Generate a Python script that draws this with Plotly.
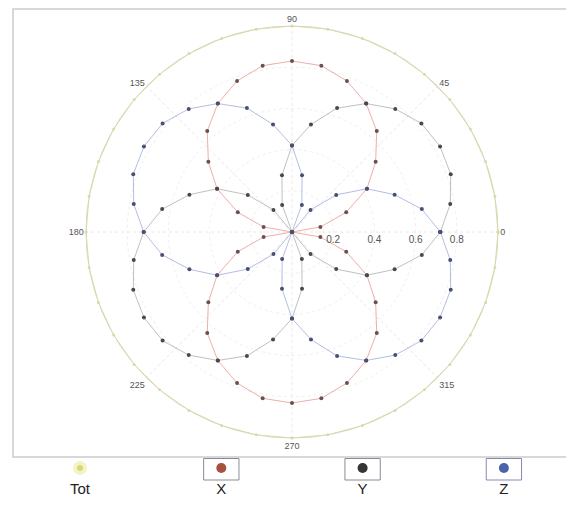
import plotly.graph_objects as go

# ---- data -------------------------------------------------------------
theta_deg = list(range(0, 361, 10))

x_vals = [0.00, 0.14, 0.28, 0.42, 0.53, 0.64, 0.72, 0.78, 0.82, 0.83,
          0.82, 0.78, 0.72, 0.64, 0.53, 0.42, 0.28, 0.14, 0.00,
          0.14, 0.28, 0.42, 0.53, 0.64, 0.72, 0.78, 0.82, 0.83,
          0.82, 0.78, 0.72, 0.64, 0.53, 0.42, 0.28, 0.14, 0.00]

y_vals = [0.72, 0.78, 0.82, 0.83, 0.82, 0.78, 0.72, 0.64, 0.53, 0.42,
          0.28, 0.14, 0.00, 0.14, 0.28, 0.42, 0.53, 0.64, 0.72,
          0.78, 0.82, 0.83, 0.82, 0.78, 0.72, 0.64, 0.53, 0.42,
          0.28, 0.14, 0.00, 0.14, 0.28, 0.42, 0.53, 0.64, 0.72]

z_vals = [0.72, 0.64, 0.53, 0.42, 0.28, 0.14, 0.00, 0.14, 0.28, 0.42,
          0.53, 0.64, 0.72, 0.78, 0.82, 0.83, 0.82, 0.78, 0.72,
          0.64, 0.53, 0.42, 0.28, 0.14, 0.00, 0.14, 0.28, 0.42,
          0.53, 0.64, 0.72, 0.78, 0.82, 0.83, 0.82, 0.78, 0.72]

tot_vals = [1.0] * 37

series_names = ["Tot", "X", "Y", "Z"]
angle_ticks = [0, 45, 90, 135, 180, 225, 270, 315]
radial_ticks = [0.2, 0.4, 0.6, 0.8]

# ---- geometry (page pixels; page body has an 8px margin) --------------
OFF = 8
W, H = 574 - 2 * OFF, 506 - 2 * OFF
cx, cy, R = 292 - OFF, 232 - OFF, 206
leg_x0, leg_dx = 80 - OFF, 141.3
leg_top = 458 - OFF          # top of legend strip (figure px)
leg_h = H - leg_top          # legend strip height (px)

line_cols = {"Tot": "rgba(210,212,150,0.8)", "X": "rgba(228,130,120,0.65)",
             "Y": "rgba(140,140,145,0.55)", "Z": "rgba(130,145,205,0.6)"}
mk_cols = {"Tot": "#dcdca0", "X": "#6a5052", "Y": "#48484c", "Z": "#474f72"}
leg_cols = {"Tot": "#d8d878", "X": "#a5523e", "Y": "#353535", "Z": "#4a62a8"}

fig = go.Figure()

for name, vals in zip(series_names, [tot_vals, x_vals, y_vals, z_vals]):
    fig.add_trace(go.Scatterpolar(
        r=vals, theta=theta_deg, mode="lines+markers", name=name,
        line=dict(color=line_cols[name], width=1),
        marker=dict(color=mk_cols[name], size=4 if name != "Tot" else 3),
        showlegend=False))

# ---- custom legend (row below plot); y axis measured in px below strip top
fig.add_trace(go.Scatter(
    x=series_names, y=[-10] * 4, mode="markers",
    marker=dict(size=10, color=[leg_cols[n] for n in series_names],
                line=dict(color=["#f3f3c8", "rgba(0,0,0,0)", "rgba(0,0,0,0)", "rgba(0,0,0,0)"],
                          width=[4, 0, 0, 0])),
    xaxis="x", yaxis="y", showlegend=False, hoverinfo="skip"))
fig.add_trace(go.Scatter(
    x=series_names, y=[-32] * 4, mode="text", text=series_names,
    textfont=dict(size=15, color="#222", family="Liberation Sans, Arial"),
    xaxis="x", yaxis="y", showlegend=False, hoverinfo="skip"))

shapes = []
for i, n in enumerate(series_names[1:], start=1):
    shapes.append(dict(type="rect", xref="x", yref="y",
                       x0=i - 0.125, x1=i + 0.125, y0=-22, y1=-0.5,
                       line=dict(color="#8a8a9a" if n != "Z" else "#8888b8", width=1)))
# outer frame
shapes.append(dict(type="rect", xref="paper", yref="paper",
                   x0=(13 - OFF) / W, x1=1.05, y0=1 - (457 - OFF) / H, y1=1 - 1 / H,
                   line=dict(color="#cccccc", width=1.5), layer="below"))

fig.update_layout(
    width=W, height=H,
    margin=dict(l=0, r=0, t=0, b=0),
    paper_bgcolor="white", plot_bgcolor="white",
    showlegend=False,
    font=dict(family="Liberation Sans, Arial", color="#444"),
    shapes=shapes,
    polar=dict(
        domain=dict(x=[(cx - R) / W, (cx + R) / W],
                    y=[(H - cy - R) / H, (H - cy + R) / H]),
        bgcolor="white",
        angularaxis=dict(
            tickmode="array", tickvals=angle_ticks,
            ticktext=[str(a) for a in angle_ticks],
            direction="counterclockwise", rotation=0,
            showgrid=True, gridcolor="#e8e8e8", griddash="dot",
            showline=True, linecolor="#d4d8b4", linewidth=1,
            ticks="", tickfont=dict(size=9, color="#555")),
        radialaxis=dict(
            range=[0, 1], tickmode="array", tickvals=radial_ticks,
            ticktext=[f"{v:.1f}" for v in radial_ticks],
            angle=0, side="clockwise", showline=False, ticks="",
            showgrid=True, gridcolor="#efefef", griddash="dot",
            tickfont=dict(size=10, color="#555"))),
    xaxis=dict(domain=[0, 1], range=[-leg_x0 / leg_dx, (W - leg_x0) / leg_dx],
               visible=False, fixedrange=True),
    yaxis=dict(domain=[0, leg_h / H], range=[-leg_h, 0],
               visible=False, fixedrange=True),
)

fig.write_html("out.html")
